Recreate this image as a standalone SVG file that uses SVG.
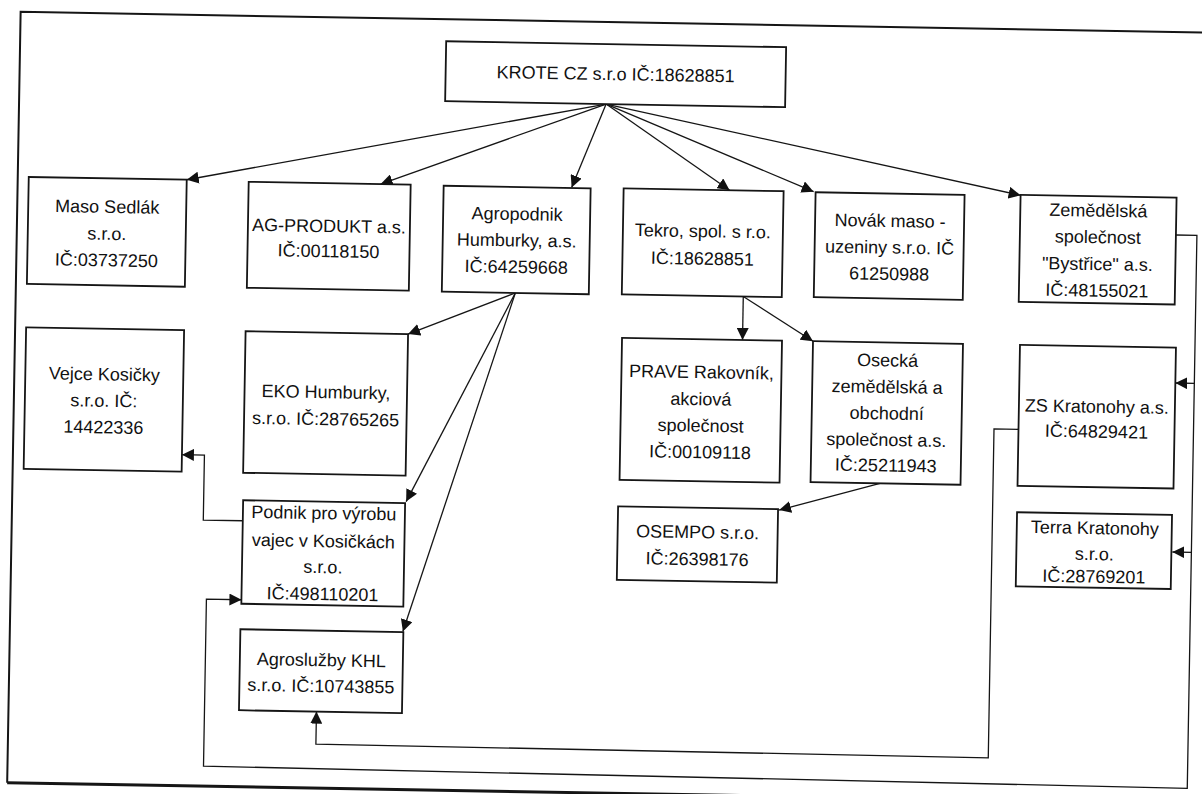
<svg xmlns="http://www.w3.org/2000/svg" width="1202" height="794" viewBox="0 0 1202 794">
<style>
.box{fill:#fff;stroke:#151515;stroke-width:1.8}
.t{font-family:"Liberation Sans",Arial,sans-serif;font-size:18px;fill:#111;text-anchor:middle}
.c{fill:none;stroke:#151515;stroke-width:1.3}
.a{marker-end:url(#ah)}
.frame{fill:none;stroke:#151515}
</style>
<defs>
<marker id="ah" viewBox="0 0 12 12" refX="12" refY="6" markerWidth="12" markerHeight="12" markerUnits="userSpaceOnUse" orient="auto"><path d="M0,0 L12,6 L0,12 z" fill="#111"/></marker>
</defs>
<rect width="1202" height="794" fill="#fff"/>
<g transform="rotate(1 601 397)">
<g id="frame">
<path class="frame" stroke-width="2" d="M1240,22 H14 V793"/>
<path class="frame" stroke-width="3" d="M14,793 H1240"/>
</g>
<g id="connectors">
<path class="c a" d="M601,104 L183,187"/>
<path class="c a" d="M601,104 L377,188"/>
<path class="c a" d="M601,104 L568,188"/>
<path class="c a" d="M601,104 L726,188"/>
<path class="c a" d="M601,104 L810,188"/>
<path class="c a" d="M601,104 L1017,188"/>
<path class="c a" d="M513.5,294.5 L407,337.5"/>
<path class="c a" d="M513.5,294.5 L408,505"/>
<path class="c a" d="M513.5,294.5 L407,635"/>
<path class="c a" d="M741.5,294 V337.5"/>
<path class="c a" d="M741.5,294 L812,337.5"/>
<path class="c a" d="M881.5,478.5 L781,507"/>
<path class="c a" d="M1173,225 H1194 V778 L210,773 V606 H245"/>
<path class="c a" d="M1194,373 H1175"/>
<path class="c a" d="M1194,542 H1175"/>
<path class="c a" d="M245,527 H205.5 V462 H183"/>
<path class="c a" d="M1019,422 H994.5 V751 L322,749 V716.5"/>
</g>
<g id="krote"><rect class="box" x="440" y="44" width="340" height="60"/><text class="t" x="610" y="80">KROTE CZ s.r.o IČ:18628851</text></g>
<g id="maso-sedlak"><rect class="box" x="25" y="187" width="158" height="107"/><text class="t" x="104" y="221.5">Maso Sedlák</text><text class="t" x="104" y="248.5">s.r.o.</text><text class="t" x="104" y="275">IČ:03737250</text></g>
<g id="ag-produkt"><rect class="box" x="245" y="188" width="162" height="106"/><text class="t" x="326" y="237">AG-PRODUKT a.s.</text><text class="t" x="326" y="262">IČ:00118150</text></g>
<g id="agropodnik"><rect class="box" x="440" y="188.5" width="147" height="106"/><text class="t" x="514" y="221.5">Agropodnik</text><text class="t" x="514" y="248">Humburky, a.s.</text><text class="t" x="514" y="274.5">IČ:64259668</text></g>
<g id="tekro"><rect class="box" x="620" y="188" width="160" height="106"/><text class="t" x="700" y="235.5">Tekro, spol. s r.o.</text><text class="t" x="700" y="263">IČ:18628851</text></g>
<g id="novak"><rect class="box" x="812" y="188.5" width="149" height="105"/><text class="t" x="887" y="222">Novák maso -</text><text class="t" x="887" y="248.5">uzeniny s.r.o. IČ</text><text class="t" x="887" y="275">61250988</text></g>
<g id="zemedelska"><rect class="box" x="1017" y="187.5" width="156" height="107"/><text class="t" x="1095" y="208">Zemědělská</text><text class="t" x="1095" y="234.5">společnost</text><text class="t" x="1095" y="261.5">"Bystřice" a.s.</text><text class="t" x="1095" y="288">IČ:48155021</text></g>
<g id="vejce"><rect class="box" x="25" y="337.5" width="158" height="141.5"/><text class="t" x="104" y="389">Vejce Kosičky</text><text class="t" x="104" y="415.5">s.r.o. IČ:</text><text class="t" x="104" y="442">14422336</text></g>
<g id="eko"><rect class="box" x="244.5" y="337.5" width="162.5" height="141.5"/><text class="t" x="326" y="403">EKO Humburky,</text><text class="t" x="326" y="430">s.r.o. IČ:28765265</text></g>
<g id="prave"><rect class="box" x="621" y="337.5" width="160" height="142"/><text class="t" x="701" y="376.5">PRAVE Rakovník,</text><text class="t" x="701" y="403.5">akciová</text><text class="t" x="701" y="430">společnost</text><text class="t" x="701" y="456.5">IČ:00109118</text></g>
<g id="osecka"><rect class="box" x="812" y="337.5" width="150" height="141"/><text class="t" x="887" y="361.5">Osecká</text><text class="t" x="887" y="388">zemědělská a</text><text class="t" x="887" y="414.5">obchodní</text><text class="t" x="887" y="441">společnost a.s.</text><text class="t" x="887" y="466.5">IČ:25211943</text></g>
<g id="zs-kratonohy"><rect class="box" x="1019" y="337.5" width="156" height="141"/><text class="t" x="1097" y="404">ZS Kratonohy a.s.</text><text class="t" x="1097" y="429">IČ:64829421</text></g>
<g id="podnik"><rect class="box" x="245" y="506.5" width="162" height="103.5"/><text class="t" x="326" y="524">Podnik pro výrobu</text><text class="t" x="326" y="552">vajec v Kosičkách</text><text class="t" x="326" y="578">s.r.o.</text><text class="t" x="326" y="605">IČ:498110201</text></g>
<g id="osempo"><rect class="box" x="620" y="506" width="160" height="73.5"/><text class="t" x="700" y="536.5">OSEMPO s.r.o.</text><text class="t" x="700" y="563.5">IČ:26398176</text></g>
<g id="terra"><rect class="box" x="1019" y="505" width="155" height="74"/><text class="t" x="1097" y="525.5">Terra Kratonohy</text><text class="t" x="1097" y="551.5">s.r.o.</text><text class="t" x="1097" y="574">IČ:28769201</text></g>
<g id="agrosluzby"><rect class="box" x="244.5" y="635.5" width="163" height="81"/><text class="t" x="326" y="671">Agroslužby KHL</text><text class="t" x="326" y="697">s.r.o. IČ:10743855</text></g>
</g>
</svg>
